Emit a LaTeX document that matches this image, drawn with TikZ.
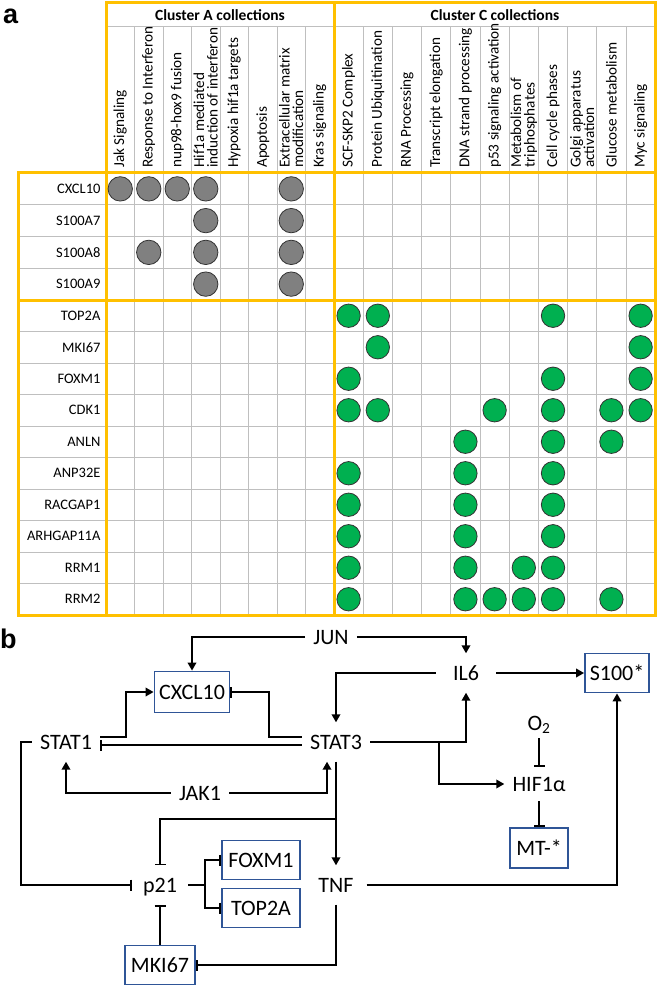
\documentclass[tikz,border=0pt]{standalone}
\usepackage{fontspec}
\setmainfont{Carlito}
\newfontfamily\panelfont{Liberation Sans}
\usepackage{tikz}
\usetikzlibrary{arrows.meta,calc}

\definecolor{clusterorange}{HTML}{FFC000}
\definecolor{gridgray}{HTML}{BFBFBF}
\definecolor{dotgray}{HTML}{808080}
\definecolor{dotgreen}{HTML}{00B050}
\definecolor{boxblue}{HTML}{2F5597}

\newcommand{\colAx}[1]{106+(#1-0.5)*28.5}
\newcommand{\colCx}[1]{334+(#1-0.5)*29.2}
\newcommand{\rowAy}[1]{173+(#1-0.5)*31.75}
\newcommand{\rowCy}[1]{300+(#1-0.5)*31.5}

\begin{document}
\begin{tikzpicture}[x=1pt,y=-1pt]
\useasboundingbox (0,0) rectangle (659,992);

% panel letters
\begin{scope}[every node/.style={font=\panelfont\bfseries\fontsize{27}{27}\selectfont,
                                 anchor=base west, inner sep=0pt}]
    \node (pa) at (3,24) {a};
    \node (pb) at (0,648) {b};
\end{scope}

% grid of panel a
\begin{scope}[every path/.style={draw=gridgray, line width=1pt}]
    \foreach \i in {1,...,7}
        \draw ({106+\i*28.5},27) -- ({106+\i*28.5},615);
    \foreach \j in {1,...,10}
        \draw ({334+\j*29.2},27) -- ({334+\j*29.2},615);
    \draw (106,27) -- (655,27);
    \foreach \k in {1,2,3}
        \draw (18,{173+\k*31.75}) -- (655,{173+\k*31.75});
    \foreach \k in {1,...,9}
        \draw (18,{300+\k*31.5}) -- (655,{300+\k*31.5});
\end{scope}

% cluster frames
\begin{scope}[every path/.style={draw=clusterorange, line width=3pt}]
    \draw (106,3) rectangle (655,615);
    \draw (18,173) rectangle (106,615);
    \draw (334,3) -- (334,615);
    \draw (18,173) -- (655,173);
    \draw (18,300) -- (655,300);
\end{scope}

% headers
\begin{scope}[every node/.style={font=\bfseries\fontsize{15.5}{18}\selectfont}]
    \node (clA) at (220,15) {Cluster A collections};
    \node (clC) at (495,15) {Cluster C collections};
\end{scope}
\begin{scope}[every node/.style={font=\fontsize{15.2}{13.5}\selectfont, rotate=90,
                                 anchor=west, align=left, inner sep=0pt}]
    \foreach \name [count=\i] in {Jak Signaling, Response to Interferon, nup98-hox9 fusion,
            {Hif1a mediated\\induction of interferon}, Hypoxia hif1a targets, Apoptosis,
            {Extracellular matrix\\modification}, Kras signaling}
        \node (setA\i) at ({\colAx{\i}},168) {\name};
    \foreach \name [count=\j] in {SCF-SKP2 Complex, Protein Ubiquitination, RNA Processing,
            Transcript elongation, DNA strand processing, p53 signaling activation,
            {Metabolism of\\triphosphates}, Cell cycle phases, {Golgi apparatus\\activation},
            Glucose metabolism, Myc signaling}
        \node (setC\j) at ({\colCx{\j}},168) {\name};
\end{scope}

% gene rows
\begin{scope}[every node/.style={font=\fontsize{14.5}{16}\selectfont, anchor=east}]
    \foreach \name [count=\k] in {CXCL10,S100A7,S100A8,S100A9}
        \node (geneA\k) at (104,{\rowAy{\k}}) {\name};
    \foreach \name [count=\k] in {TOP2A,MKI67,FOXM1,CDK1,ANLN,ANP32E,RACGAP1,ARHGAP11A,RRM1,RRM2}
        \node (geneC\k) at (104,{\rowCy{\k}}) {\name};
\end{scope}

% hits
\foreach \k/\i in {1/1,1/2,1/3,1/4,1/7,2/4,2/7,3/2,3/4,3/7,4/4,4/7}
    \draw[fill=dotgray, draw=black!80, line width=0.8pt] ({\colAx{\i}},{\rowAy{\k}}) circle (12.2pt);
\foreach \k/\j in {1/1,1/2,1/8,1/11, 2/2,2/11, 3/1,3/8,3/11, 4/1,4/2,4/6,4/8,4/10,4/11,
                   5/5,5/8,5/10, 6/1,6/5,6/8, 7/1,7/5,7/8, 8/1,8/5,8/8,
                   9/1,9/5,9/7,9/8, 10/1,10/5,10/6,10/7,10/8,10/10}
    \draw[fill=dotgreen, draw=black!80, line width=0.8pt] ({\colCx{\j}},{\rowCy{\k}}) circle (11.7pt);

% panel b: network
\begin{scope}[every node/.style={font=\fontsize{22}{26}\selectfont, text height=14pt,
                                 text depth=0pt, inner xsep=8pt, inner ysep=12.5pt}]
    \node (jun) at (331,637) {JUN};
    \node[inner xsep=17pt] (il6) at (466,673) {IL6};
    \node (stat1) at (66,742) {STAT1};
    \node (stat3) at (336,742) {STAT3};
    \node (jak1) at (200,793) {JAK1};
    \node[inner ysep=8pt] (o2) at (539,723) {O\textsubscript{2}};
    \node[inner ysep=10pt] (hif) at (539,784) {HIF1α};
    \node[inner xsep=13pt] (tnf) at (336,885) {TNF};
    \node[inner xsep=11pt] (p21) at (160,885) {p21};
\end{scope}
\begin{scope}[every node/.style={font=\fontsize{22}{26}\selectfont, text height=14pt,
                                 text depth=0pt, draw=boxblue, line width=1.8pt, inner sep=0pt,
                                 minimum height=39pt}]
    \node[minimum width=75pt, minimum height=41pt] (cxcl10) at (192,692) {CXCL10};
    \node[minimum width=64pt] (s100) at (617,673) {S100*};
    \node[minimum width=58pt, minimum height=40pt] (mt) at (539,848) {MT-*};
    \node[minimum width=78pt] (foxm1) at (261,860) {FOXM1};
    \node[minimum width=78pt] (top2a) at (261,908) {TOP2A};
    \node[minimum width=70pt] (mki67) at (160,965) {MKI67};
\end{scope}

\coordinate (hifx) at (439,0);
\begin{scope}[line width=1.8pt,
              act/.style={-{Triangle[length=8pt,width=8.5pt]}},
              inh/.style={-{Bar[width=11pt]}}]
    \draw[act] (jun.west) -| (cxcl10.north);
    \draw[act] (jun.east) -| (il6.north);
    \draw[act] (il6.west) -| (stat3.north);
    \draw[act] (il6.east) -- (s100.west);
    \draw[act] (stat3.east) -| (il6.south);
    \draw[act] (stat3.east -| hifx) |- (hif.west);
    \draw[inh] (o2.south) -- (hif.north);
    \draw[inh] (hif.south) -- (mt.north);
    \draw[act] (tnf.east) -| (s100.south);
    \draw[act] (stat3.south) -- (tnf.north);
    \draw[act] (jak1.west) -| (stat1.south);
    \draw[act] (jak1.east) -| ([xshift=-9pt]stat3.south);
    \draw[inh] (stat1.west) -- ++(-11,0) |- (p21.west);
    \draw[inh] ([yshift=-3pt]stat3.west) -- ([yshift=-3pt]stat1.east);
    \draw[act] ([yshift=5pt]stat1.east) -- ++(26,0) |- (cxcl10.west);
    \draw[inh] ([yshift=5pt]stat3.west) -- ++(-33,0) |- (cxcl10.east);
    \draw[inh] ($(stat3.south)!0.55!(tnf.north)$) -| (p21.north);
    \draw[inh] (p21.east) -- ++(17,0) |- (foxm1.west);
    \draw[inh] (p21.east) -- ++(17,0) |- (top2a.west);
    \draw[inh] (mki67.north) -- (p21.south);
    \draw[inh] (tnf.south) |- (mki67.east);
\end{scope}
\end{tikzpicture}
\end{document}
